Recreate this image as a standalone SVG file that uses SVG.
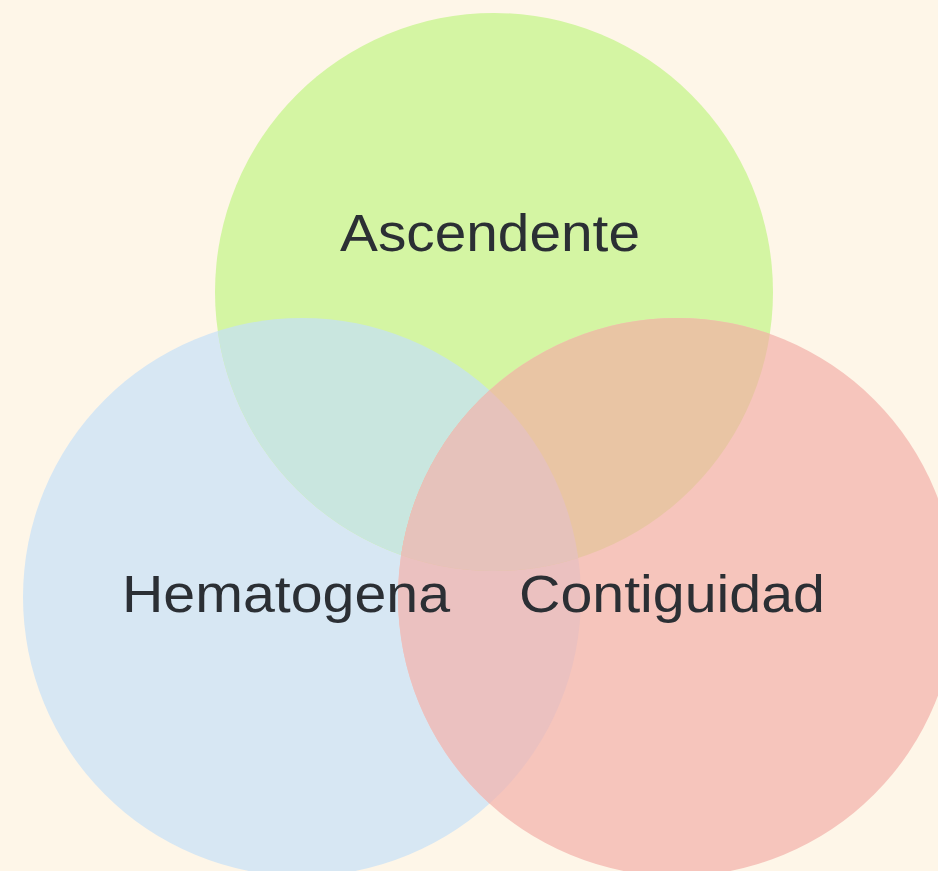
<svg xmlns="http://www.w3.org/2000/svg" width="938" height="871" viewBox="0 0 938 871">
<defs>
<style>
.lbl{font-family:"Liberation Sans","Noto Sans",sans-serif;font-size:51px;fill:#2B2F34;}
</style>
<clipPath id="cB"><circle cx="302" cy="597" r="279"/></clipPath>
<clipPath id="cG"><circle cx="494" cy="292" r="279"/></clipPath>
<clipPath id="cR"><circle cx="677" cy="597" r="279"/></clipPath>
</defs>
<rect width="938" height="871" fill="#FEF6E8"/>
<g id="hematogena">
<circle cx="302" cy="597" r="279" fill="#D7E7F3"/>
</g>
<g id="ascendente">
<circle cx="494" cy="292" r="279" fill="#D4F5A3"/>
<circle cx="494" cy="292" r="279" fill="#C9E6DF" clip-path="url(#cB)"/>
</g>
<g id="contiguidad">
<circle cx="677" cy="597" r="279" fill="#F6C5BC"/>
<circle cx="677" cy="597" r="279" fill="#EBC1C0" clip-path="url(#cB)"/>
<circle cx="677" cy="597" r="279" fill="#E9C5A4" clip-path="url(#cG)"/>
<g clip-path="url(#cB)"><circle cx="677" cy="597" r="279" fill="#E6C2BB" clip-path="url(#cG)"/></g>
</g>
<g id="labels">
<text class="lbl" x="340" y="251" textLength="300" lengthAdjust="spacingAndGlyphs">Ascendente</text>
<text class="lbl" x="122" y="612" textLength="328" lengthAdjust="spacingAndGlyphs">Hematogena</text>
<text class="lbl" x="519" y="612" textLength="306" lengthAdjust="spacingAndGlyphs">Contiguidad</text>
</g>
<g id="connectors"/>
</svg>
